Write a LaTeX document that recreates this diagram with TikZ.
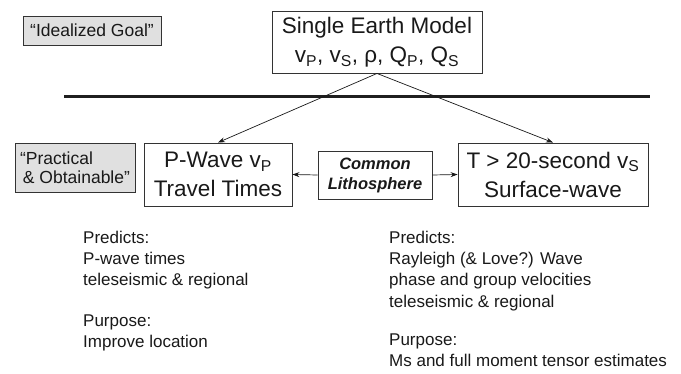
\documentclass[tikz,border=0pt]{standalone}
\usepackage{fontspec}
\setmainfont{Liberation Sans}
\usetikzlibrary{arrows.meta}
\begin{document}
\begin{tikzpicture}[x=1pt,y=-1pt,
  box/.style={draw=black!80, line width=0.9pt, inner sep=0pt, align=center, text=black!90},
  graybox/.style={box, fill=black!12},
  big/.style={font=\fontsize{22.5}{29}\selectfont},
  mid/.style={font=\fontsize{17.5}{19}\selectfont},
  small/.style={font=\fontsize{17}{21.3}\selectfont, align=left, inner sep=0pt, anchor=north west, text=black!90},
  arr/.style={-{Stealth[length=7pt,width=5pt]}, line width=0.7pt, draw=black!90}
]
\useasboundingbox (0,0) rectangle (681,374);

\node[graybox, mid, minimum width=138pt, minimum height=29pt] (goal) at (92,30.5) {“Idealized Goal”};
\node[box, big, minimum width=210pt, minimum height=62pt] (model) at (377,42)
  {Single Earth Model\\v\textsubscript{P}, v\textsubscript{S}, ρ, Q\textsubscript{P}, Q\textsubscript{S}};

\coordinate (sepL) at (64,97);
\coordinate (sepR) at (650,97);
\draw[line width=3pt, draw=black!88] (sepL) -- (sepR);

\node[graybox, mid, align=left, minimum width=120pt, minimum height=49pt] (prac) at (75,167.5)
  {“Practical\\\,\& Obtainable”};
\node[box, big, minimum width=148pt, minimum height=63pt] (pwave) at (218,174.5)
  {P-Wave v\textsubscript{P}\\Travel Times};
\node[box, font=\fontsize{16.5}{20}\selectfont\bfseries\itshape, minimum width=114pt, minimum height=48pt] (common) at (375,175)
  {Common\\Lithosphere};
\node[box, big, minimum width=190pt, minimum height=63pt] (tbox) at (553,174.5)
  {T > 20-second v\textsubscript{S}\\Surface-wave};

\draw[arr] (model.south) -- (pwave.north);
\draw[arr] (model.south) -- (tbox.north);
\draw[arr] (common.west) -- (pwave.east);
\draw[arr] (common.east) -- (tbox.west);

\node[small] (lpred) at (83,228.1) {\strut Predicts:\\P-wave times\\teleseismic \& regional};
\node[small] (lpurp) at (83,311.1) {\strut Purpose:\\Improve location};
\node[small] (rpred) at (389,228.1) {\strut Predicts:\\Rayleigh (\& Love?) Wave\\phase and group velocities\\teleseismic \& regional};
\node[small] (rpurp) at (389,330.1) {\strut Purpose:\\Ms and full moment tensor estimates};
\end{tikzpicture}
\end{document}
